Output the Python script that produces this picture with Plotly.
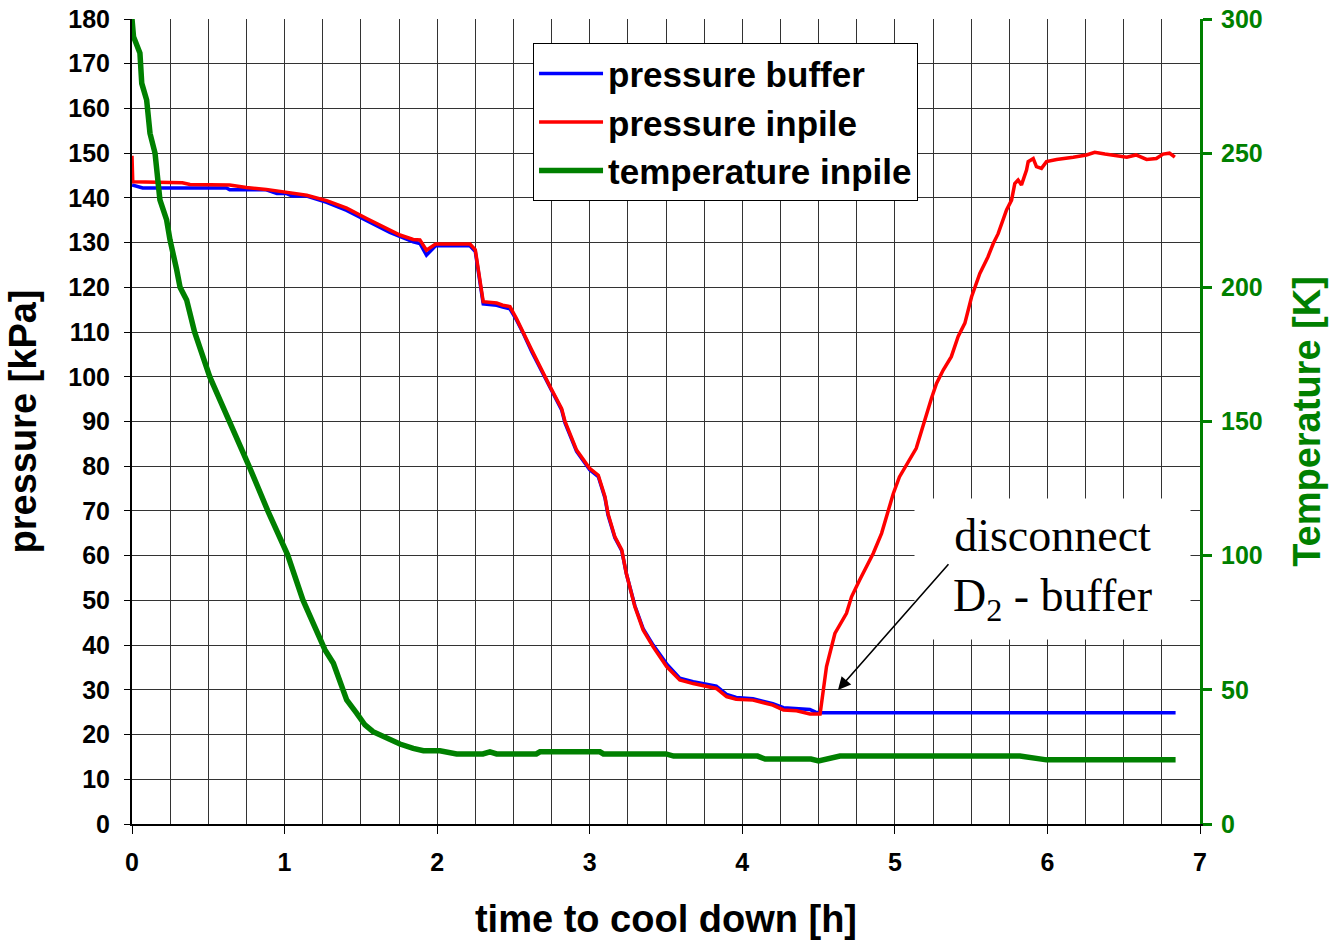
import plotly.graph_objects as go

# ---------------- data ----------------
t_inpile = [0, 0.005, 0.33, 0.38, 0.64, 0.75, 0.88, 1.01, 1.145, 1.276, 1.407, 1.538, 1.69, 1.756,
            1.843, 1.887, 1.93, 1.99, 2.215, 2.25, 2.302, 2.39, 2.43, 2.477, 2.52, 2.565, 2.62, 2.74,
            2.816, 2.838, 2.914, 3.0, 3.056, 3.10, 3.12, 3.165, 3.21, 3.24, 3.296, 3.35, 3.416, 3.504,
            3.59, 3.678, 3.788, 3.83, 3.897, 3.96, 4.07, 4.115, 4.2, 4.27, 4.356, 4.443, 4.51, 4.552,
            4.563, 4.607, 4.683, 4.716, 4.77, 4.858, 4.913, 4.99, 5.03, 5.14, 5.24, 5.273, 5.317, 5.37,
            5.415, 5.459, 5.503, 5.557, 5.61, 5.645, 5.677, 5.732, 5.765, 5.786, 5.808, 5.83, 5.863,
            5.874, 5.907, 5.928, 5.961, 5.994, 6.06, 6.125, 6.169, 6.256, 6.31, 6.377, 6.43, 6.52,
            6.58, 6.65, 6.714, 6.758, 6.80, 6.835]
p_inpile = [149.4, 143.6, 143.4, 143.0, 142.9, 142.3, 141.9, 141.2, 140.6, 139.4, 137.7, 135.4, 132.8,
            131.7, 130.7, 130.6, 128.3, 129.7, 129.7, 128.4, 116.8, 116.5, 116.0, 115.7, 113.0, 110.0,
            106.0, 97.8, 92.9, 90.0, 83.6, 79.5, 78.0, 73.2, 69.4, 64.2, 61.3, 56.0, 48.6, 43.4, 39.6,
            35.2, 32.2, 31.4, 30.7, 30.3, 28.5, 27.9, 27.7, 27.3, 26.6, 25.5, 25.3, 24.6, 24.6, 35.2,
            36.7, 42.6, 47.1, 50.8, 54.6, 60.5, 65.0, 73.9, 77.6, 84.0, 95.2, 98.5, 101.5, 104.5, 109.0,
            112.0, 117.9, 123.1, 126.8, 129.8, 132.0, 137.3, 139.5, 143.2, 144.0, 142.9, 146.2, 148.1,
            148.8, 147.0, 146.6, 148.1, 148.6, 148.8, 149.1, 149.6, 150.2, 149.8, 149.6, 149.1, 149.6,
            148.6, 148.8, 149.8, 150.0, 149.1]

t_buffer = [0, 0.07, 0.62, 0.64, 0.88, 0.95, 1.01, 1.05, 1.145, 1.2, 1.276, 1.407, 1.538, 1.69, 1.843,
            1.887, 1.93, 1.99, 2.215, 2.25, 2.302, 2.39, 2.43, 2.477, 2.52, 2.565, 2.62, 2.74, 2.816,
            2.838, 2.914, 3.0, 3.056, 3.10, 3.12, 3.165, 3.21, 3.24, 3.296, 3.35, 3.416, 3.504, 3.59,
            3.678, 3.788, 3.83, 3.897, 3.96, 4.07, 4.115, 4.2, 4.27, 4.356, 4.443, 4.48, 4.51, 6.84]
p_buffer = [142.9, 142.2, 142.2, 141.8, 141.8, 141.0, 141.0, 140.4, 140.4, 139.8, 139.0, 137.2, 134.9,
            132.3, 130.2, 129.8, 127.2, 129.3, 129.3, 128.0, 116.3, 116.0, 115.6, 115.2, 112.7, 109.7,
            105.6, 97.5, 92.6, 89.7, 83.3, 79.2, 77.7, 72.9, 69.1, 64.0, 61.1, 56.0, 48.8, 43.7, 40.0,
            35.8, 32.6, 31.8, 31.2, 30.8, 29.0, 28.3, 28.0, 27.6, 26.9, 26.0, 25.8, 25.6, 25.0, 24.9, 24.9]

t_temp = [0, 0.01, 0.052, 0.064, 0.096, 0.118, 0.151, 0.172, 0.183, 0.227, 0.249, 0.293, 0.315, 0.358,
          0.41, 0.51, 0.64, 0.767, 0.89, 1.02, 1.12, 1.245, 1.265, 1.32, 1.363, 1.407, 1.472, 1.527,
          1.58, 1.67, 1.756, 1.843, 1.91, 2.018, 2.128, 2.30, 2.346, 2.39, 2.65, 2.674, 3.067, 3.09,
          3.5, 3.55, 4.1, 4.15, 4.45, 4.5, 4.55, 4.64, 5.82, 5.9, 5.994, 6.84]
temp_inpile = [300, 293.4, 287.3, 276, 269.8, 257.4, 250, 240, 232.6, 225.1, 217.7, 206.5, 200, 195.3,
               183.4, 166.6, 150.2, 133.4, 116.7, 100.3, 83.5, 66.7, 64.9, 59.9, 52.4, 46.2, 41.3, 36.9,
               34.4, 31.9, 29.8, 28.2, 27.3, 27.3, 26.1, 26.1, 26.9, 26.1, 26.1, 26.9, 26.9, 26.1,
               26.1, 25.3, 25.3, 24.2, 24.2, 23.5, 24.2, 25.3, 25.3, 24.5, 23.9, 23.9]

x_ticks = [0, 1, 2, 3, 4, 5, 6, 7]
p_ticks = list(range(0, 181, 10))
temp_ticks = [0, 50, 100, 150, 200, 250, 300]

# ---------------- figure ----------------
SANS = "Liberation Sans, Arial, sans-serif"
SERIF = "Liberation Serif, Times New Roman, serif"
GREEN = "#008000"
GRID = "#333333"

fig = go.Figure()
fig.add_trace(go.Scatter(x=t_buffer, y=p_buffer, mode="lines", name="pressure buffer",
                         line=dict(color="#0000FF", width=3.5), yaxis="y"))
fig.add_trace(go.Scatter(x=t_inpile, y=p_inpile, mode="lines", name="pressure inpile",
                         line=dict(color="#FF0000", width=3.5), yaxis="y"))
fig.add_trace(go.Scatter(x=t_temp, y=temp_inpile, mode="lines", name="temperature inpile",
                         line=dict(color=GREEN, width=5.5), yaxis="y2"))

fig.update_layout(
    width=1332, height=940,
    margin=dict(l=132, r=132, t=19, b=116, autoexpand=False),
    paper_bgcolor="white", plot_bgcolor="white",
    font=dict(family=SANS, color="black"),
    showlegend=True,
    legend=dict(x=0.3755, y=0.970, xanchor="left", yanchor="top",
                bgcolor="white", bordercolor="black", borderwidth=1,
                font=dict(family=SANS, size=35, color="black", weight="bold"),
                itemwidth=64, tracegroupgap=0),
    xaxis=dict(range=[0, 7], tickvals=x_ticks, showgrid=True, gridcolor=GRID, gridwidth=1,
               minor=dict(dtick=0.25, showgrid=True, gridcolor=GRID, gridwidth=1),
               showline=True, linecolor="black", linewidth=2, zeroline=False,
               ticks="outside", ticklen=8, tickwidth=1, tickcolor="black",
               ticklabelstandoff=7, automargin=False,
               tickfont=dict(family=SANS, size=25, color="black", weight="bold"),
               title=dict(text="time to cool down [h]", standoff=30,
                          font=dict(family=SANS, size=38, color="black", weight="bold"))),
    yaxis=dict(range=[0, 180], tickvals=p_ticks, showgrid=True, gridcolor=GRID, gridwidth=1,
               showline=True, linecolor="black", linewidth=2, zeroline=False,
               ticks="outside", ticklen=6, tickwidth=1, tickcolor="black",
               ticklabelstandoff=9, automargin=False,
               tickfont=dict(family=SANS, size=25, color="black", weight="bold"),
               title=dict(text="pressure [kPa]", standoff=20,
                          font=dict(family=SANS, size=38, color="black", weight="bold"))),
    yaxis2=dict(range=[0, 300], tickvals=temp_ticks, overlaying="y", side="right",
                showgrid=False, zeroline=False, showline=True, linecolor=GREEN, linewidth=3,
                ticks="outside", ticklen=9, tickwidth=3, tickcolor=GREEN,
                ticklabelstandoff=4, automargin=False,
                tickfont=dict(family=SANS, size=25, color=GREEN, weight="bold"),
                title=dict(text="Temperature [K]", standoff=32,
                           font=dict(family=SANS, size=38, color=GREEN, weight="bold"))),
    yaxis3=dict(range=[0, 300], tickvals=temp_ticks, overlaying="y", side="right",
                showgrid=False, zeroline=False, showline=False, showticklabels=False,
                ticks="inside", ticklen=8, tickwidth=3, tickcolor=GREEN, automargin=False),
)

# text box annotation
fig.add_annotation(x=6.035, y=57.0, xref="x", yref="y",
                   text="disconnect<br>D<sub>2</sub> - buffer", showarrow=False,
                   font=dict(family=SERIF, size=46, color="black"),
                   bgcolor="white", width=273, height=138, align="center")
# arrow
fig.add_annotation(x=4.627, y=29.96, xref="x", yref="y",
                   ax=5.36, ay=58.4, axref="x", ayref="y",
                   text="", showarrow=True, arrowhead=2, arrowsize=1.6,
                   arrowwidth=1.6, arrowcolor="black")

fig.write_html("out.html")
